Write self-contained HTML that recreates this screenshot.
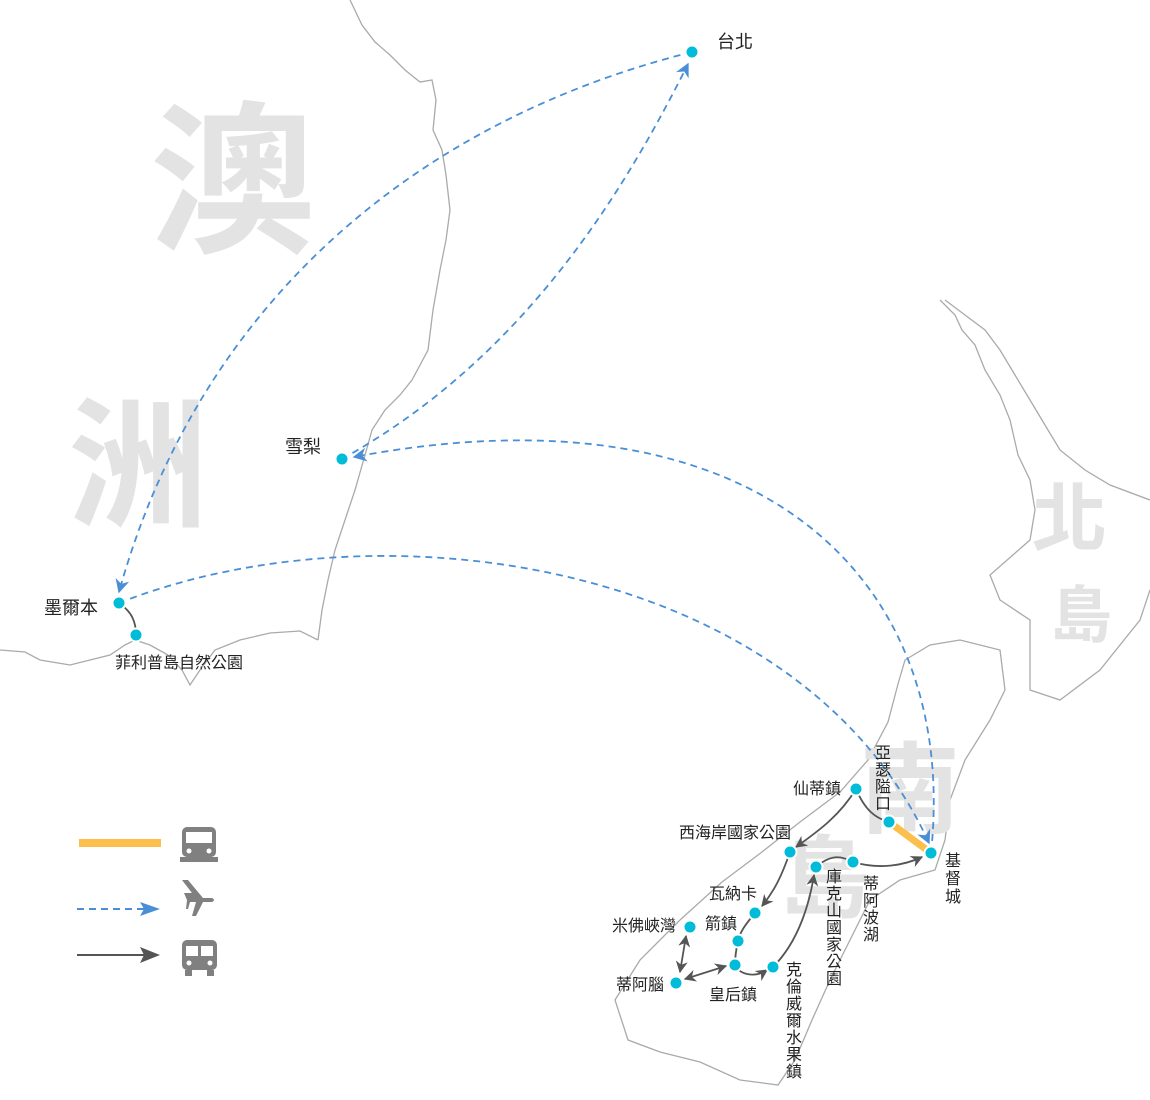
<!DOCTYPE html>
<html><head><meta charset="utf-8"><style>
body{margin:0;background:#fff;}
svg{display:block;}
text{font-family:"Liberation Sans","Noto Sans CJK TC",sans-serif;}
</style></head><body>
<svg width="1150" height="1100" viewBox="0 0 1150 1100" xmlns="http://www.w3.org/2000/svg">
<defs>
<marker id="ab" viewBox="0 0 10 10" refX="9" refY="5" markerUnits="userSpaceOnUse" markerWidth="17" markerHeight="14" orient="auto"><path d="M0,0 L10,5 L0,10 L3,5z" fill="#4a8fd6"/></marker>
<marker id="ag" viewBox="0 0 10 10" refX="9" refY="5" markerUnits="userSpaceOnUse" markerWidth="15" markerHeight="12" orient="auto"><path d="M0,0 L10,5 L0,10 L3,5z" fill="#555"/></marker>
<marker id="ag2" viewBox="0 0 10 10" refX="9" refY="5" markerUnits="userSpaceOnUse" markerWidth="15" markerHeight="12" orient="auto-start-reverse"><path d="M0,0 L10,5 L0,10 L3,5z" fill="#555"/></marker>
</defs>
<g fill="none" stroke="#aaa" stroke-width="1.3">
<path d="M350,0 L362,25 L375,42 L390,55 L405,70 L420,82 L432,80 L436,100 L433,130 L442,150 L446,175 L450,210 L446,240 L440,270 L433,310 L428,350 L412,380 L400,395 L385,410 L372,430 L365,455 L355,490 L345,520 L335,550 L328,580 L322,610 L318,640"/>
<path d="M0,650 L25,652 L40,660 L70,665 L90,660 L110,655 L125,645 L135,640 L150,645 L168,655 L182,670 L190,685 L200,670 L215,650 L240,640 L270,633 L300,631 L318,640"/>
<path d="M905,660 L930,645 L960,640 L1000,650 L1005,690 L990,720 L965,760 L950,800 L945,840 L935,870 L900,880 L870,900 L850,940 L830,980 L812,1020 L795,1060 L778,1085 L740,1080 L700,1062 L660,1052 L628,1040 L615,1000 L640,960 L680,920 L722,882 L762,852 L800,822 L840,792 L868,760 L888,722 L898,684 Z"/>
<path d="M940,300 L955,315 L962,330 L975,345 L985,370 L1000,395 L1010,420 L1018,455 L1030,480 L1035,510 L1030,540 L990,575 L1000,600 L1030,620 L1030,690 L1060,700 L1100,670 L1140,620 L1150,590"/>
<path d="M945,300 L965,315 L985,330 L1000,350 L1015,375 L1030,400 L1045,425 L1060,450 L1085,470 L1110,485 L1150,500"/>
</g>
<g fill="#e3e3e3" font-weight="bold">
<text x="150" y="240" font-size="165">澳</text>
<text x="68" y="515" font-size="140">洲</text>
<text x="1032" y="545" font-size="75">北</text>
<text x="1050" y="637" font-size="62">島</text>
<text x="860" y="825" font-size="100">南</text>
<text x="780" y="910" font-size="90">島</text>
</g>
<g fill="none" stroke="#4a8fd6" stroke-width="1.8" stroke-dasharray="7,5">
<path d="M692,52 C420,120 200,300 119,592" marker-end="url(#ab)"/>
<path d="M342,459 C520,360 620,200 688,64" marker-end="url(#ab)"/>
<path d="M931,853 C960,580 760,380 354,457" marker-end="url(#ab)"/>
<path d="M119,603 C380,500 800,560 929,843" marker-end="url(#ab)"/>
</g>
<g fill="none" stroke="#555" stroke-width="1.8">
<path d="M119,603 C132,612 136,622 136,635"/>
<path d="M856,789 C865,810 875,818 889,822"/>
<path d="M856,789 C840,815 820,830 796,847" marker-end="url(#ag)"/>
<path d="M790,852 C782,875 775,890 762,906" marker-end="url(#ag)"/>
<path d="M755,913 C745,925 740,932 738,941"/>
<path d="M738,941 C736,950 735,958 735,965"/>
<path d="M735,965 C740,975 755,978 767,970" marker-end="url(#ag)"/>
<path d="M773,967 C800,940 810,900 814,875" marker-end="url(#ag)"/>
<path d="M816,867 C830,855 840,855 853,862"/>
<path d="M853,862 C880,870 905,865 922,857" marker-end="url(#ag)"/>
<path d="M686,936 L680,972" marker-end="url(#ag)" marker-start="url(#ag2)"/>
<path d="M685,979 L726,966" marker-end="url(#ag)" marker-start="url(#ag2)"/>
</g>
<line x1="889" y1="822" x2="931" y2="853" stroke="#fcbf4c" stroke-width="7"/>
<g fill="#00bcd8" stroke="#fff" stroke-width="2">
<circle cx="692" cy="52" r="6.5"/><circle cx="342" cy="459" r="6.5"/><circle cx="119" cy="603" r="6.5"/><circle cx="136" cy="635" r="6.5"/>
<circle cx="856" cy="789" r="6.5"/><circle cx="889" cy="822" r="6.5"/><circle cx="931" cy="853" r="6.5"/><circle cx="790" cy="852" r="6.5"/>
<circle cx="816" cy="867" r="6.5"/><circle cx="853" cy="862" r="6.5"/><circle cx="755" cy="913" r="6.5"/><circle cx="738" cy="941" r="6.5"/>
<circle cx="690" cy="927" r="6.5"/><circle cx="735" cy="965" r="6.5"/><circle cx="773" cy="967" r="6.5"/><circle cx="676" cy="983" r="6.5"/>
</g>
<g fill="#222" font-size="18">
<text x="717" y="48">台北</text>
<text x="285" y="453">雪梨</text>
<text x="44" y="614">墨爾本</text>
<text x="115" y="668" font-size="16">菲利普島自然公園</text>
<text x="793" y="794" font-size="16">仙蒂鎮</text>
<text x="679" y="838" font-size="16">西海岸國家公園</text>
<text x="709" y="899" font-size="16">瓦納卡</text>
<text x="705" y="929" font-size="16">箭鎮</text>
<text x="612" y="931" font-size="16">米佛峽灣</text>
<text x="616" y="990" font-size="16">蒂阿腦</text>
<text x="709" y="1000" font-size="16">皇后鎮</text>
</g>
<g fill="#222" font-size="16" text-anchor="middle">
<text x="883" y="758"><tspan x="883" dy="0">亞</tspan><tspan x="883" dy="17">瑟</tspan><tspan x="883" dy="17">隘</tspan><tspan x="883" dy="17">口</tspan></text>
<text x="953" y="866"><tspan x="953" dy="0">基</tspan><tspan x="953" dy="18">督</tspan><tspan x="953" dy="18">城</tspan></text>
<text x="834" y="882"><tspan x="834" dy="0">庫</tspan><tspan x="834" dy="17">克</tspan><tspan x="834" dy="17">山</tspan><tspan x="834" dy="17">國</tspan><tspan x="834" dy="17">家</tspan><tspan x="834" dy="17">公</tspan><tspan x="834" dy="17">園</tspan></text>
<text x="871" y="889"><tspan x="871" dy="0">蒂</tspan><tspan x="871" dy="17">阿</tspan><tspan x="871" dy="17">波</tspan><tspan x="871" dy="17">湖</tspan></text>
<text x="794" y="975"><tspan x="794" dy="0">克</tspan><tspan x="794" dy="17">倫</tspan><tspan x="794" dy="17">威</tspan><tspan x="794" dy="17">爾</tspan><tspan x="794" dy="17">水</tspan><tspan x="794" dy="17">果</tspan><tspan x="794" dy="17">鎮</tspan></text>
</g>
<rect x="79" y="839" width="82" height="8" fill="#fcbf4c"/>
<line x1="77" y1="909" x2="148" y2="909" stroke="#4a8fd6" stroke-width="2" stroke-dasharray="7,5"/>
<path d="M140,902 L160,909 L140,916 L144,909z" fill="#4a8fd6"/>
<line x1="77" y1="955" x2="146" y2="955" stroke="#555" stroke-width="2"/>
<path d="M140,947 L160,955 L140,963 L144,955z" fill="#555"/>
<g fill="#808080">
<rect x="182" y="827" width="34" height="30" rx="5"/>
<rect x="186" y="832" width="26" height="11" fill="#fff"/>
<rect x="180" y="857" width="38" height="5"/>
<circle cx="189" cy="851" r="2.5" fill="#fff"/><circle cx="209" cy="851" r="2.5" fill="#fff"/>
<path d="M182,880 L188,880 L203,898 L212,898 Q216,900 212,902 L203,902 L196,916 L192,916 L196,902 L190,902 L188,909 L186,909 L187,900 L184,893 L192,893 Z"/>
<rect x="182" y="940" width="35" height="30" rx="5"/>
<rect x="186" y="946" width="12" height="10" fill="#fff"/><rect x="201" y="946" width="12" height="10" fill="#fff"/>
<rect x="185" y="970" width="7" height="6"/><rect x="207" y="970" width="7" height="6"/>
<circle cx="189" cy="963" r="2.5" fill="#fff"/><circle cx="210" cy="963" r="2.5" fill="#fff"/>
</g>
</svg>
</body></html>
